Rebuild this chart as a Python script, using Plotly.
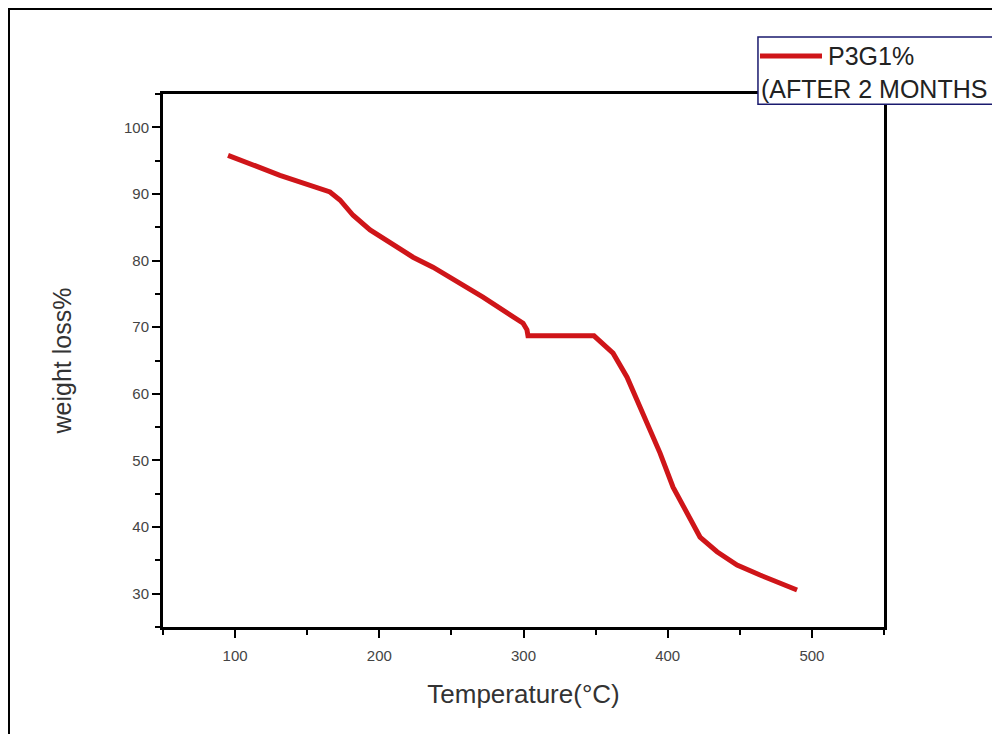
import plotly.graph_objects as go

# Data
temperature = [95.1, 131.1, 165.8, 172.7, 181.8, 193.6, 223.4, 237.2, 271.9, 299.7,
               302.4, 303.1, 348.9, 362.1, 371.8, 382.9, 394.7, 403.7, 415.5, 422.4,
               434.2, 448.1, 464.0, 489.7]
weight_loss = [95.8, 92.8, 90.3, 89.1, 86.8, 84.6, 80.5, 79.0, 74.5, 70.6,
               69.6, 68.7, 68.7, 66.1, 62.5, 57.1, 51.1, 46.0, 41.5, 38.5,
               36.3, 34.3, 32.8, 30.55]
series_line1 = "P3G1%"
series_line2 = "(AFTER 2 MONTHS"
x_title = "Temperature(°C)"
y_title = "weight loss%"

RED = "#cf1519"
FONT = "Arial, Liberation Sans, sans-serif"

fig = go.Figure()
fig.add_trace(go.Scatter(x=temperature, y=weight_loss, mode="lines",
                         line=dict(color=RED, width=5), name=series_line1,
                         showlegend=False))

axis_common = dict(showline=True, linecolor="black", linewidth=3, mirror=True,
                   ticks="outside", ticklen=8, tickwidth=2, tickcolor="black",
                   showgrid=False, zeroline=False,
                   tickfont=dict(family=FONT, size=15, color="#444"))

fig.update_xaxes(range=[50, 550], tick0=0, dtick=100, ticklabelstandoff=5,
                 minor=dict(dtick=50, tick0=0, ticks="outside", ticklen=5,
                            tickwidth=2, tickcolor="black"),
                 title=dict(text=x_title, font=dict(family=FONT, size=26, color="#333"),
                            standoff=22),
                 **axis_common)
fig.update_yaxes(range=[25, 105], tick0=0, dtick=10,
                 minor=dict(dtick=5, tick0=0, ticks="outside", ticklen=5,
                            tickwidth=2, tickcolor="black"),
                 title=dict(text=y_title, font=dict(family=FONT, size=25, color="#333"),
                            standoff=46),
                 **axis_common)

# outer frame (left and top edges visible, as in reference)
fig.add_shape(type="rect", xref="paper", yref="paper", x0=-0.2136, x1=1.3,
              y0=-0.3, y1=1.1595, line=dict(color="black", width=2), layer="below")

# legend box drawn by hand (line length like the original)
fig.add_shape(type="rect", xref="paper", yref="paper", x0=0.8252, x1=1.3,
              y0=0.981, y1=1.107, line=dict(color="#1a1a6e", width=1.5),
              fillcolor="white", layer="above")
fig.add_shape(type="line", xref="paper", yref="paper", x0=0.828, x1=0.914,
              y0=1.0713, y1=1.0713, line=dict(color=RED, width=5))
fig.add_annotation(xref="paper", yref="paper", x=0.919, y=1.0713, xanchor="left",
                   yanchor="middle", text=series_line1, showarrow=False,
                   font=dict(family=FONT, size=25, color="#222"))
fig.add_annotation(xref="paper", yref="paper", x=0.826, y=1.0094, xanchor="left",
                   yanchor="middle", text=series_line2, showarrow=False,
                   font=dict(family=FONT, size=25, color="#222"))

fig.update_layout(width=992, height=726, margin=dict(l=155, r=116, t=86, b=107),
                  paper_bgcolor="white", plot_bgcolor="white",
                  font=dict(family=FONT))

fig.write_html("out.html")
